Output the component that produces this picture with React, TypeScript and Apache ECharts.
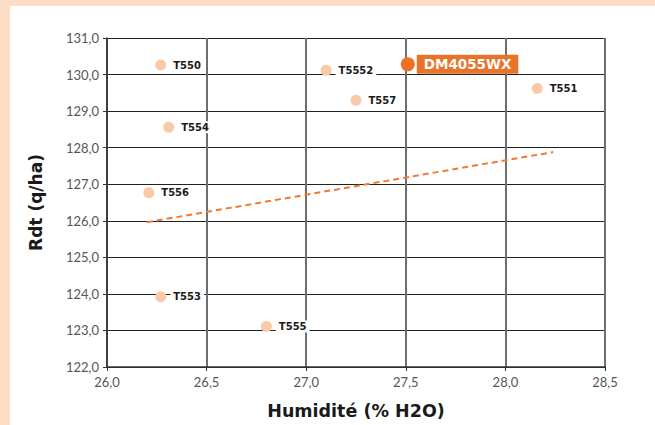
import React, { useEffect, useRef } from "react";
import * as echarts from "echarts";

const names = ["T550", "T554", "T556", "T553", "T555", "T5552", "T557", "T551"];
const humidity = [26.27, 26.31, 26.21, 26.27, 26.8, 27.1, 27.25, 28.16];
const yields = [130.26, 128.56, 126.77, 123.92, 123.11, 130.12, 129.3, 129.62];

const highlightName = "DM4055WX";
const highlightX = 27.51;
const highlightY = 130.28;

const trendX = [26.2, 28.24];
const trendY = [125.96, 127.88];

const xTicks = { min: 26, max: 28.5, interval: 0.5 };
const yTicks = { min: 122, max: 131, interval: 1 };

const FONT = "Lato, 'Noto Sans', sans-serif";
const BOLD = "'DejaVu Sans', sans-serif";

export default function App() {
  const ref = useRef<HTMLDivElement>(null);
  useEffect(() => {
    document.body.style.margin = "0";
    const chart = echarts.init(ref.current!, null, { renderer: "svg" });
    const fmt = (v: number) => v.toFixed(1).replace(".", ",");
    chart.setOption({
      animation: false,
      backgroundColor: "transparent",
      textStyle: { fontFamily: FONT },
      grid: { left: 107, right: 50, top: 38, bottom: 58 },
      xAxis: {
        type: "value",
        min: xTicks.min,
        max: xTicks.max,
        interval: xTicks.interval,
        name: "Humidité (% H2O)",
        nameLocation: "middle",
        nameGap: 35,
        nameTextStyle: { fontSize: 17.5, fontWeight: "bold", color: "#1a1a1a", fontFamily: BOLD },
        axisLine: { show: true, lineStyle: { color: "#333", width: 1.5 } },
        axisTick: { show: true, length: 4, lineStyle: { color: "#333" } },
        axisLabel: { formatter: fmt, color: "#555", fontSize: 13, margin: 8, fontFamily: FONT },
        splitLine: { show: true, lineStyle: { color: "#6e6e6e", width: 2 } },
      },
      yAxis: {
        type: "value",
        min: yTicks.min,
        max: yTicks.max,
        interval: yTicks.interval,
        name: "Rdt (q/ha)",
        nameLocation: "middle",
        nameGap: 63,
        nameTextStyle: { fontSize: 17, fontWeight: "bold", color: "#1a1a1a", fontFamily: BOLD },
        axisLine: { show: true, onZero: false, lineStyle: { color: "#333", width: 1.5 } },
        axisTick: { show: true, length: 4, lineStyle: { color: "#333" } },
        axisLabel: { formatter: fmt, color: "#555", fontSize: 13, margin: 8, fontFamily: FONT },
        splitLine: { show: true, lineStyle: { color: "#222", width: 1 } },
      },
      series: [
        {
          type: "line",
          data: trendX.map((x, i) => [x, trendY[i]]),
          showSymbol: false,
          symbol: "none",
          lineStyle: { color: "#EE7B30", width: 2, type: [6, 4] },
          z: 3,
          silent: true,
        },
        {
          type: "scatter",
          data: names.map((n, i) => ({ name: n, value: [humidity[i], yields[i]] })),
          symbolSize: 11,
          itemStyle: { color: "#FAC9A6", opacity: 1 },
          label: {
            show: true,
            position: "right",
            distance: 4,
            formatter: (p: any) => p.name,
            color: "#1a1a1a",
            fontWeight: "bold",
            fontSize: 10,
            fontFamily: BOLD,
            backgroundColor: "#fff",
            padding: [1, 3],
          },
          z: 4,
        },
        {
          type: "scatter",
          data: [{ name: highlightName, value: [highlightX, highlightY] }],
          symbolSize: 14,
          itemStyle: { color: "#F07022", opacity: 1 },
          label: {
            show: true,
            position: "right",
            distance: 2,
            formatter: (p: any) => p.name,
            color: "#fff",
            fontWeight: "bold",
            fontSize: 13.5,
            lineHeight: 15,
            fontFamily: BOLD,
            backgroundColor: "#E8732A",
            padding: [2, 7],
          },
          z: 5,
        },
      ],
    });
    return () => chart.dispose();
  }, []);
  return (
    <div style={{ position: "absolute", left: 0, top: 0, width: 655, height: 425, background: "#FDDCC5" }}>
      <div style={{ position: "absolute", left: 10, top: 6, width: 645, height: 419, background: "#fff" }} />
      <div ref={ref} style={{ position: "absolute", left: 0, top: 0, width: 655, height: 425 }} />
    </div>
  );
}
